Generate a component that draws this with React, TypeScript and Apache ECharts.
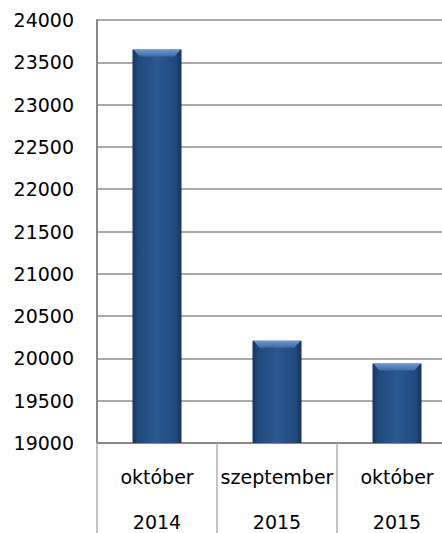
import React, { useEffect, useRef } from "react";
import * as echarts from "echarts";

const categories = ["október\n2014", "szeptember\n2015", "október\n2015"];
const values = [23650, 20210, 19940];
const yMin = 19000;
const yMax = 24000;
const yInterval = 500;

export default function App() {
  const ref = useRef<HTMLDivElement>(null);
  useEffect(() => {
    if (!ref.current) return;
    const chart = echarts.init(ref.current, null, { renderer: "svg" });
    const barW = 49;
    chart.setOption({
      animation: false,
      backgroundColor: "#ffffff",
      grid: {
        left: 97,
        right: -15,
        top: 20,
        bottom: 90,
        containLabel: false,
        outerBoundsMode: "none",
      },
      xAxis: {
        type: "category",
        data: categories,
        boundaryGap: true,
        axisLine: { show: true, lineStyle: { color: "#888888", width: 2 } },
        axisTick: {
          show: true,
          interval: 0,
          length: 100,
          lineStyle: { color: "#b0b0b0", width: 1.5 },
        },
        axisLabel: {
          interval: 0,
          margin: 11,
          color: "#000000",
          fontFamily: "DejaVu Sans",
          fontSize: 19,
          lineHeight: 45,
          verticalAlign: "top",
        },
        splitLine: { show: false },
      },
      yAxis: {
        type: "value",
        min: yMin,
        max: yMax,
        interval: yInterval,
        axisLine: { show: true, lineStyle: { color: "#888888", width: 2 } },
        axisTick: { show: false },
        axisLabel: {
          margin: 23,
          color: "#000000",
          fontFamily: "DejaVu Sans",
          fontSize: 19,
          formatter: (v: number) => String(v),
        },
        splitLine: { show: true, lineStyle: { color: "#8c8c8c", width: 1.5 } },
      },
      series: [
        {
          type: "custom",
          data: values.map((v, i) => [i, v]),
          renderItem: (params: any, api: any) => {
            const idx = api.value(0);
            const val = api.value(1);
            const top = api.coord([idx, val]);
            const base = api.coord([idx, yMin]);
            const x = top[0] - barW / 2;
            const y = top[1];
            const h = base[1] - top[1];
            const bevel = 7;
            return {
              type: "group",
              children: [
                {
                  type: "rect",
                  shape: { x, y, width: barW, height: h },
                  style: {
                    fill: new echarts.graphic.LinearGradient(0, 0, 1, 0, [
                      { offset: 0, color: "#183660" },
                      { offset: 0.12, color: "#22497d" },
                      { offset: 0.5, color: "#2a5890" },
                      { offset: 0.88, color: "#22497d" },
                      { offset: 1, color: "#163259" },
                    ]),
                  },
                },
                {
                  type: "polygon",
                  shape: {
                    points: [
                      [x + 1, y],
                      [x + barW - 1, y],
                      [x + barW - bevel, y + bevel],
                      [x + bevel, y + bevel],
                    ],
                  },
                  style: {
                    fill: new echarts.graphic.LinearGradient(0, 0, 0, 1, [
                      { offset: 0, color: "#6f9ad0" },
                      { offset: 1, color: "#3e6aa3" },
                    ]),
                  },
                },
              ],
            };
          },
        },
      ],
    });
    return () => chart.dispose();
  }, []);
  return (
    <div
      ref={ref}
      style={{ position: "fixed", left: 0, top: 0, width: 442, height: 533 }}
    />
  );
}
